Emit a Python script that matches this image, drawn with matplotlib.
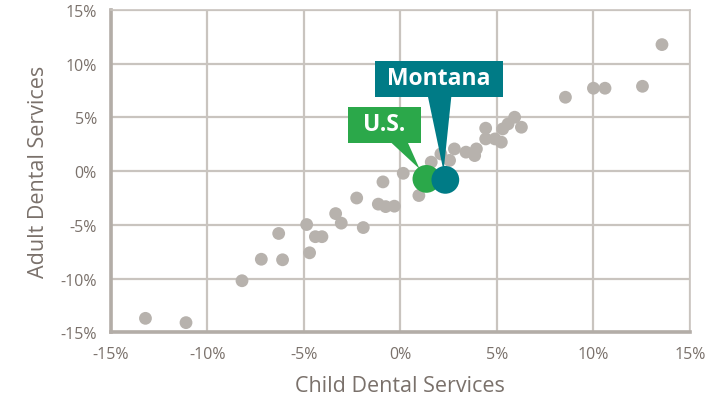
import matplotlib.pyplot as plt
from matplotlib.patches import Polygon
from matplotlib.ticker import FuncFormatter

# ============================================================
# DATA
# ============================================================
child = [-13.2, -11.1, -8.2, -7.2, -6.1, -6.3, -4.85, -4.7, -4.4, -4.06,
         -3.35, -3.06, -2.26, -1.92, -1.14, -0.76, -0.31, -0.9, 0.15, 0.96,
         1.6, 2.1, 2.55, 2.8, 3.4, 3.85, 3.94, 4.42, 4.42, 4.9,
         5.23, 5.3, 5.58, 5.92, 6.27, 8.55, 10.0, 10.6, 12.54, 13.55]
adult = [-13.7, -14.1, -10.2, -8.2, -8.25, -5.8, -4.97, -7.6, -6.1, -6.1,
         -3.95, -4.84, -2.5, -5.25, -3.07, -3.3, -3.26, -1.0, -0.2, -2.27,
         0.84, 1.6, 1.0, 2.07, 1.77, 1.45, 2.07, 4.0, 3.0, 3.0,
         2.7, 3.93, 4.4, 5.02, 4.09, 6.88, 7.72, 7.72, 7.9, 11.78]

us_point = (1.35, -0.72)
mt_point = (2.33, -0.81)

ticks = [-15, -10, -5, 0, 5, 10, 15]

GRAY = "#b7b2ad"
GREEN = "#2ba84a"
TEAL = "#007b86"
TEXT = "#7a716b"
GRID = "#c9c4bf"

plt.rcParams["font.family"] = ["Open Sans", "DejaVu Sans"]

# ============================================================
# PLOT
# ============================================================
fig = plt.figure(figsize=(7.17, 4.02), dpi=100)
ax = fig.add_axes([0.1544, 0.1709, 0.8079, 0.8017])

ax.scatter(child, adult, s=85, color=GRAY, edgecolors="none", zorder=3)
ax.scatter(*us_point, s=400, color=GREEN, edgecolors="none", zorder=5)
ax.scatter(*mt_point, s=400, color=TEAL, edgecolors="none", zorder=6)

# callouts: box (x0, x1, y0, y1) and pointer base (xa, xb)
def callout(box, base, tip, color, text):
    x0, x1, y0, y1 = box
    ax.add_patch(Polygon([(x0, y0), (x1, y0), (x1, y1), (x0, y1)],
                         closed=True, color=color, lw=0, zorder=7))
    ax.add_patch(Polygon([(base[0], y0 + 0.05), (base[1], y0 + 0.05), tip],
                         closed=True, color=color, lw=0, zorder=7))
    ax.text((x0 + x1) / 2, (y0 + y1) / 2 + 0.1, text, color="white", fontsize=16.5,
            fontweight="bold", ha="center", va="center", zorder=8)

callout((-1.33, 5.32, 6.88, 10.29), (1.43, 2.64), (2.24, 0.0), TEAL, "Montana")
callout((-2.72, 1.09, 2.6, 5.95), (-0.47, 0.39), (1.0, 0.2), GREEN, "U.S.")

ax.set_xlim(-15, 15)
ax.set_ylim(-15, 15)
ax.set_xticks(ticks)
ax.set_yticks(ticks)
pct = FuncFormatter(lambda v, p: f"{v:.0f}%")
ax.xaxis.set_major_formatter(pct)
ax.yaxis.set_major_formatter(pct)
ax.tick_params(length=0, labelsize=11.5, colors=TEXT)
ax.tick_params(axis="x", pad=10)
ax.tick_params(axis="y", pad=10)
ax.grid(True, color=GRID, lw=1.6, zorder=0)
ax.set_axisbelow(True)

for side in ["top", "right"]:
    ax.spines[side].set_color(GRID)
    ax.spines[side].set_linewidth(1.2)
for side in ["left", "bottom"]:
    ax.spines[side].set_color("#b3ada7")
    ax.spines[side].set_linewidth(2.6)

ax.set_xlabel("Child Dental Services", fontsize=15.5, color=TEXT, labelpad=9)
ax.set_ylabel("Adult Dental Services", fontsize=15.5, color=TEXT, labelpad=8)

fig.savefig("out.png", dpi=100)
